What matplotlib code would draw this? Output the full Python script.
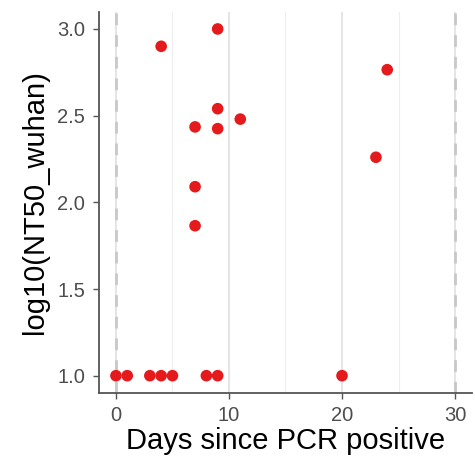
import matplotlib.pyplot as plt
import numpy as np

plt.rcParams['font.family'] = ['Liberation Sans', 'DejaVu Sans']

# days since PCR positive and log10 titres
days = [4, 9, 24, 9, 11, 7, 9, 23, 7, 7, 0, 1, 3, 4, 5, 8, 9, 20]
titre = [2.90, 3.00, 2.765, 2.54, 2.48, 2.435, 2.425, 2.26, 2.09, 1.865,
         1.0, 1.0, 1.0, 1.0, 1.0, 1.0, 1.0, 1.0]

x_ticks = [0, 10, 20, 30]
x_minor = [5, 15, 25]
y_ticks = [1.0, 1.5, 2.0, 2.5, 3.0]
cutoffs = [0, 30]

fig = plt.figure(figsize=(4.75, 4.65), dpi=100)
ax = fig.add_axes([0.2084, 0.1548, 0.7853, 0.8202])

for v in x_minor:
    ax.axvline(v, color='#ededed', lw=0.8, zorder=0)
for v in x_ticks:
    ax.axvline(v, color='#e3e3e3', lw=1.3, zorder=0)
for v in cutoffs:
    ax.axvline(v, color='#c8c8c8', lw=2, ls=(0, (4.2, 3.6)), zorder=1)

ax.scatter(days, titre, s=70, color='#E41A1C', edgecolors='none', zorder=3)

ax.set_xlim(-1.5, 31.5)
ax.set_ylim(0.9, 3.1)
ax.set_xticks(x_ticks)
ax.set_yticks(y_ticks)
ax.set_yticklabels(['%.1f' % t for t in y_ticks])

for s in ['top', 'right']:
    ax.spines[s].set_visible(False)
for s in ['left', 'bottom']:
    ax.spines[s].set_color('#555555')
    ax.spines[s].set_linewidth(1.3)
ax.tick_params(length=4, width=1, color='#555555', labelcolor='#4D4D4D',
               labelsize=14.5)
ax.tick_params(axis='y', pad=6)
ax.tick_params(axis='x', pad=5)

ax.set_xlabel('Days since PCR positive', fontsize=21, labelpad=2)
ax.set_ylabel('log10(NT50_wuhan)', fontsize=21, labelpad=6)

fig.savefig('out.png', dpi=100)
